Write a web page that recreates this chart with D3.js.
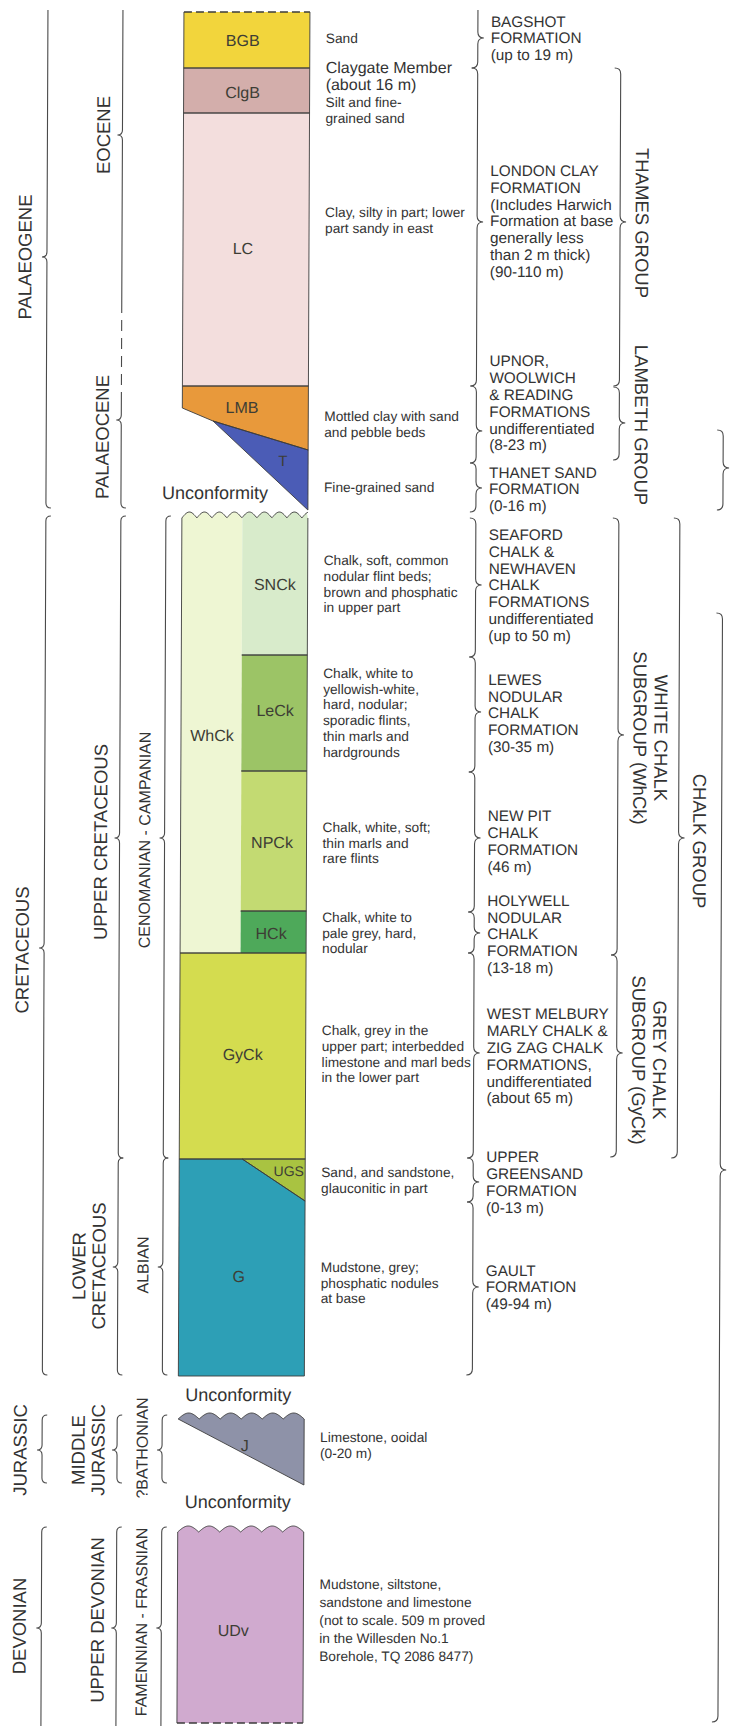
<!DOCTYPE html>
<html lang="en">
<head>
<meta charset="UTF-8">
<title>Generalised vertical section</title>
<script src="https://cdn.jsdelivr.net/npm/d3@7"></script>
<style>
  body { margin: 0; background: #fff; }
  svg { display: block; }
  text { font-family: "Liberation Sans", Arial, Helvetica, sans-serif; fill: #333; }
</style>
</head>
<body>
<div id="chart"></div>
<script>
// depth = position down the section (0 = top of drawn column), fraction = across the column
const unitCodes = ["BGB", "ClgB", "LC", "LMB", "T", "WhCk", "SNCk", "LeCk", "NPCk", "HCk", "GyCk", "UGS", "G", "J", "UDv"];
const unitOutlines = [
    [[0, 0], [1, 0], [1, 56], [0, 56]],
    [[0, 56], [1, 56], [1, 101], [0, 101]],
    [[0, 101], [1, 101], [1, 374], [0, 374]],
    [[0, 374], [1, 374], [1, 438], [0.244, 409], [0, 396]],
    [[0.244, 409], [1, 438], [1, 498]],
    [[0, 506], [0.48, 506], [0.48, 941], [0, 941]],
    [[0.48, 506], [1, 506], [1, 643], [0.48, 643]],
    [[0.48, 643], [1, 643], [1, 759], [0.48, 759]],
    [[0.48, 759], [1, 759], [1, 899], [0.48, 899]],
    [[0.48, 899], [1, 899], [1, 941], [0.48, 941]],
    [[0, 941], [1, 941], [1, 1147], [0, 1147]],
    [[0.5, 1147], [1, 1147], [1, 1189]],
    [[0, 1147], [0.5, 1147], [1, 1189], [1, 1364], [0, 1364]],
    [[0, 1407], [1, 1407], [1, 1473]],
    [[0, 1520], [1, 1520], [1, 1711], [0, 1711]]
];
const unitLabelAt = [[0.468, 28], [0.468, 80], [0.476, 236], [0.474, 395], [0.80, 449], [0.246, 723], [0.74, 572],
    [0.746, 698], [0.726, 830], [0.722, 921], [0.5, 1042], [0.87, 1159], [0.476, 1264], [0.53, 1433], [0.444, 1618]];
const splitFraction = 0.48;
const sectionLimits = [0, 1711];
const unconformityDepth = [506, 1407, 1520];
const unconformityLabelDepth = [481, 1383, 1490];

// chronostratigraphy, three brace columns on the left
const ageLines = [["PALAEOGENE"], ["CRETACEOUS"], ["JURASSIC"], ["DEVONIAN"],
    ["EOCENE"], ["PALAEOCENE"], ["UPPER CRETACEOUS"], ["LOWER", "CRETACEOUS"], ["MIDDLE", "JURASSIC"], ["UPPER DEVONIAN"],
    ["CENOMANIAN - CAMPANIAN"], ["ALBIAN"], ["?BATHONIAN"], ["FAMENNIAN - FRASNIAN"]];
const ageRank = [0, 0, 0, 0, 1, 1, 1, 1, 1, 1, 2, 2, 2, 2];
const ageTop = [-2, 504, 1403, 1515, -2, 386, 504, 1146, 1403, 1515, 504, 1146, 1403, 1515];
const ageBase = [496, 1363, 1471, 1716, 290, 496, 1146, 1363, 1471, 1716, 1146, 1363, 1471, 1716];
const ageTip = [245, 936, 1438, 1616, 123, 408, 826, 1255, 1438, 1616, 826, 1255, 1438, 1616];
const ageLabelMid = [245, 938, 1438, 1614, 123, 425, 830, 1254, 1438, 1608, 828, 1253, 1436, 1610];
const ageOpenTop = [false, false, false, false, false, true, false, false, false, false, false, false, false, false];
const ageOpenBase = [false, false, false, false, true, false, false, false, false, false, false, false, false, false];
const uncertainRank = [1];
const uncertainTop = [290];
const uncertainBase = [386];

// lithostratigraphy
const formLines = [
    ["BAGSHOT", "FORMATION", "(up to 19 m)"],
    ["LONDON CLAY", "FORMATION", "(Includes Harwich", "Formation at base", "generally less", "than 2 m thick)", "(90-110 m)"],
    ["UPNOR,", "WOOLWICH", "& READING", "FORMATIONS", "undifferentiated", "(8-23 m)"],
    ["THANET SAND", "FORMATION", "(0-16 m)"],
    ["SEAFORD", "CHALK &", "NEWHAVEN", "CHALK", "FORMATIONS", "undifferentiated", "(up to 50 m)"],
    ["LEWES", "NODULAR", "CHALK", "FORMATION", "(30-35 m)"],
    ["NEW PIT", "CHALK", "FORMATION", "(46 m)"],
    ["HOLYWELL", "NODULAR", "CHALK", "FORMATION", "(13-18 m)"],
    ["WEST MELBURY", "MARLY CHALK &", "ZIG ZAG CHALK", "FORMATIONS,", "undifferentiated", "(about 65 m)"],
    ["UPPER", "GREENSAND", "FORMATION", "(0-13 m)"],
    ["GAULT", "FORMATION", "(49-94 m)"]
];
const formTop = [-2, 56, 374, 451, 506, 645, 760, 900, 941, 1146, 1190];
const formBase = [56, 374, 451, 500, 645, 760, 900, 941, 1146, 1190, 1363];
const formTip = [26, 210, 419, 476, 573, 700, 826, 921, 1041, 1170, 1275];
const formTextMid = [26, 209, 391, 477, 573, 701, 829, 922, 1044, 1170, 1275];

const groupLines = [["THAMES GROUP"], ["LAMBETH GROUP"], ["WHITE CHALK", "SUBGROUP (WhCk)"], ["GREY CHALK", "SUBGROUP (GyCk)"], ["CHALK GROUP"], [], []];
const groupRank = [0, 0, 0, 0, 1, 2, 2];
const groupTop = [56, 375, 506, 943, 506, 418, 601];
const groupBase = [374, 448, 943, 1145, 1146, 498, 1710];
const groupTip = [210, 411, 723, 1041, 826, 456, 1158];
const groupLabelMid = [211, 413, 726, 1048, 829, 456, 1158];

const memberLines = ["Claygate Member", "(about 16 m)"];
const memberMid = 63.5;

const descLines = [
    ["Sand"],
    ["Silt and fine-", "grained sand"],
    ["Clay, silty in part; lower", "part sandy in east"],
    ["Mottled clay with sand", "and pebble beds"],
    ["Fine-grained sand"],
    ["Chalk, soft, common", "nodular flint beds;", "brown and phosphatic", "in upper part"],
    ["Chalk, white to", "yellowish-white,", "hard, nodular;", "sporadic flints,", "thin marls and", "hardgrounds"],
    ["Chalk, white, soft;", "thin marls and", "rare flints"],
    ["Chalk, white to", "pale grey, hard,", "nodular"],
    ["Chalk, grey in the", "upper part; interbedded", "limestone and marl beds", "in the lower part"],
    ["Sand, and sandstone,", "glauconitic in part"],
    ["Mudstone, grey;", "phosphatic nodules", "at base"],
    ["Limestone, ooidal", "(0-20 m)"],
    ["Mudstone, siltstone,", "sandstone and limestone", "(not to scale. 509 m proved", "in the Willesden No.1", "Borehole, TQ 2086 8477)"]
];
const descMid = [26, 98.5, 208, 412, 475, 572, 700.5, 831, 921, 1042, 1168.5, 1271, 1433.5, 1608];

// ---- layout & style ----
const w = 731, h = 1726;
const palette = ["#f2d53c", "#d3aeab", "#f3dedd", "#e8993b", "#4b5cb6", "#eef6d3", "#d8ebcb", "#9cc466",
    "#c3da72", "#4ea95a", "#d4dc4f", "#a9c341", "#2d9fb6", "#8e92a8", "#d0aacf"];
const colour = d3.scaleOrdinal(unitCodes, palette);
const ageX = [48, 123, 168], ageLabelX = [26, 104, 148], ageFont = [18.5, 18.5, 16];
const groupX = [621, 682, 725], groupLabelX = [643, 703, 745];
const formX = 478, formTextX = 491, descX = 326;
const unconformityLabelX = [164, 191, 191];
const waveLen = [15, 21, 21], waveAmp = 6;
const ink = "#4a4a4a";

const yScale = d3.scaleLinear().domain(sectionLimits).range([12, 1723]);
const xCol = d3.scaleLinear().domain([0, 1]).range([184, 310]);

const svg = d3.select("#chart").append("svg")
    .attr("width", w)
    .attr("height", h);

// the scanned original leans slightly to the left
const root = svg.append("g").attr("transform", "skewX(-0.235)");

function edgePoints(a, b) {
    const k = unconformityDepth.indexOf(a[1]);
    if (a[1] === b[1] && k >= 0) {
        const xa = xCol(a[0]), xb = xCol(b[0]), y0 = yScale(a[1]);
        const n = Math.max(2, Math.round(Math.abs(xb - xa)));
        return d3.range(n + 1).map(i => {
            const x = xa + (xb - xa) * i / n;
            return [x, y0 - waveAmp * Math.abs(Math.sin(Math.PI * (x - xCol(0)) / waveLen[k]))];
        });
    }
    return [[xCol(a[0]), yScale(a[1])], [xCol(b[0]), yScale(b[1])]];
}

function ringPath(pts) {
    let all = [];
    pts.forEach((p, i) => {
        const seg = edgePoints(p, pts[(i + 1) % pts.length]);
        all = all.concat(seg.slice(0, -1));
    });
    return d3.line()(all) + "Z";
}

function outlinePath(pts) {
    let d = "";
    pts.forEach((p, i) => {
        const q = pts[(i + 1) % pts.length];
        if (p[0] === splitFraction && q[0] === splitFraction) return;
        if (p[1] === q[1] && sectionLimits.includes(p[1])) return;
        d += d3.line()(edgePoints(p, q));
    });
    return d;
}

function bracePath(x, y0, y1, ym, dir, r, openTop, openBase) {
    const p = d3.path();
    if (openTop) p.moveTo(x, y0);
    else { p.moveTo(x - dir * r, y0); p.quadraticCurveTo(x, y0, x, y0 + r); }
    p.lineTo(x, ym - r);
    p.quadraticCurveTo(x, ym, x + dir * r, ym);
    p.quadraticCurveTo(x, ym, x, ym + r);
    if (openBase) p.lineTo(x, y1);
    else { p.lineTo(x, y1 - r); p.quadraticCurveTo(x, y1, x - dir * r, y1); }
    return p.toString();
}

// column
const units = root.append("g");
units.selectAll("path.fill")
    .data(unitOutlines)
    .enter()
    .append("path")
    .attr("class", "fill")
    .attr("d", d => ringPath(d))
    .attr("fill", (d, i) => colour(unitCodes[i]));

units.selectAll("path.edge")
    .data(unitOutlines)
    .enter()
    .append("path")
    .attr("class", "edge")
    .attr("d", d => outlinePath(d))
    .attr("fill", "none")
    .attr("stroke", "#3c3c3c")
    .attr("stroke-width", 0.9);

units.selectAll("line.limit")
    .data(sectionLimits)
    .enter()
    .append("line")
    .attr("class", "limit")
    .attr("x1", xCol(0))
    .attr("x2", xCol(1))
    .attr("y1", d => yScale(d))
    .attr("y2", d => yScale(d))
    .attr("stroke", "#3c3c3c")
    .attr("stroke-width", 1.3)
    .attr("stroke-dasharray", "8,4");

units.selectAll("text")
    .data(unitCodes)
    .enter()
    .append("text")
    .attr("x", (d, i) => xCol(unitLabelAt[i][0]))
    .attr("y", (d, i) => yScale(unitLabelAt[i][1]))
    .attr("dy", "0.35em")
    .attr("text-anchor", "middle")
    .style("font-size", d => d === "UGS" ? "14px" : (d === "T" ? "15px" : "16px"))
    .style("fill", "#3d3d35")
    .text(d => d);

root.selectAll("text.unconf")
    .data(unconformityLabelDepth)
    .enter()
    .append("text")
    .attr("class", "unconf")
    .attr("x", (d, i) => unconformityLabelX[i])
    .attr("y", d => yScale(d))
    .attr("dy", "0.35em")
    .style("font-size", "18px")
    .text("Unconformity");

// age braces and labels
root.selectAll("path.age")
    .data(ageLines)
    .enter()
    .append("path")
    .attr("class", "age")
    .attr("d", (d, i) => bracePath(ageX[ageRank[i]], yScale(ageTop[i]), yScale(ageBase[i]), yScale(ageTip[i]), -1, 5,
        ageOpenTop[i] || ageTop[i] < 0, ageOpenBase[i] || ageBase[i] > 1711))
    .attr("fill", "none")
    .attr("stroke", ink)
    .attr("stroke-width", 1.1);

root.selectAll("line.uncertain")
    .data(uncertainRank)
    .enter()
    .append("line")
    .attr("class", "uncertain")
    .attr("x1", d => ageX[d])
    .attr("x2", d => ageX[d])
    .attr("y1", (d, i) => yScale(uncertainTop[i]))
    .attr("y2", (d, i) => yScale(uncertainBase[i]))
    .attr("stroke", ink)
    .attr("stroke-width", 1.1)
    .attr("stroke-dasharray", "11,7");

ageLines.forEach((lines, i) => {
    const r = ageRank[i];
    lines.forEach((t, j) => {
        root.append("text")
            .attr("transform", "translate(" + (ageLabelX[r] - (lines.length - 1 - j) * 20) + "," + yScale(ageLabelMid[i]) + ") rotate(-90)")
            .attr("dy", "0.35em")
            .attr("text-anchor", "middle")
            .style("font-size", ageFont[r] + "px")
            .text(t);
    });
});

// formation braces and names
root.selectAll("path.form")
    .data(formLines)
    .enter()
    .append("path")
    .attr("class", "form")
    .attr("d", (d, i) => bracePath(formX, yScale(formTop[i]), yScale(formBase[i]), yScale(formTip[i]), 1, 6, formTop[i] < 0, false))
    .attr("fill", "none")
    .attr("stroke", ink)
    .attr("stroke-width", 1.1);

formLines.forEach((lines, i) => {
    lines.forEach((t, j) => {
        root.append("text")
            .attr("x", formTextX)
            .attr("y", yScale(formTextMid[i]) + (j - (lines.length - 1) / 2) * 16.8)
            .attr("dy", "0.35em")
            .style("font-size", "15.3px")
            .text(t);
    });
});

// groups and subgroups
root.selectAll("path.group")
    .data(groupLines)
    .enter()
    .append("path")
    .attr("class", "group")
    .attr("d", (d, i) => bracePath(groupX[groupRank[i]], yScale(groupTop[i]), yScale(groupBase[i]), yScale(groupTip[i]), 1, 6, false, false))
    .attr("fill", "none")
    .attr("stroke", ink)
    .attr("stroke-width", 1.1);

groupLines.forEach((lines, i) => {
    const r = groupRank[i];
    lines.forEach((t, j) => {
        root.append("text")
            .attr("transform", "translate(" + (groupLabelX[r] + (lines.length - 1 - j) * 21) + "," + yScale(groupLabelMid[i]) + ") rotate(90)")
            .attr("dy", "0.35em")
            .attr("text-anchor", "middle")
            .style("font-size", "18.5px")
            .text(t);
    });
});

// descriptions
memberLines.forEach((t, j) => {
    root.append("text")
        .attr("x", descX)
        .attr("y", yScale(memberMid) + (j - 0.5) * 17)
        .attr("dy", "0.35em")
        .style("font-size", "16px")
        .text(t);
});

descLines.forEach((lines, i) => {
    const lead = i === descLines.length - 1 ? 18 : 15.7;
    lines.forEach((t, j) => {
        root.append("text")
            .attr("x", descX)
            .attr("y", yScale(descMid[i]) + (j - (lines.length - 1) / 2) * lead)
            .attr("dy", "0.35em")
            .style("font-size", "13.7px")
            .text(t);
    });
});
</script>
</body>
</html>
